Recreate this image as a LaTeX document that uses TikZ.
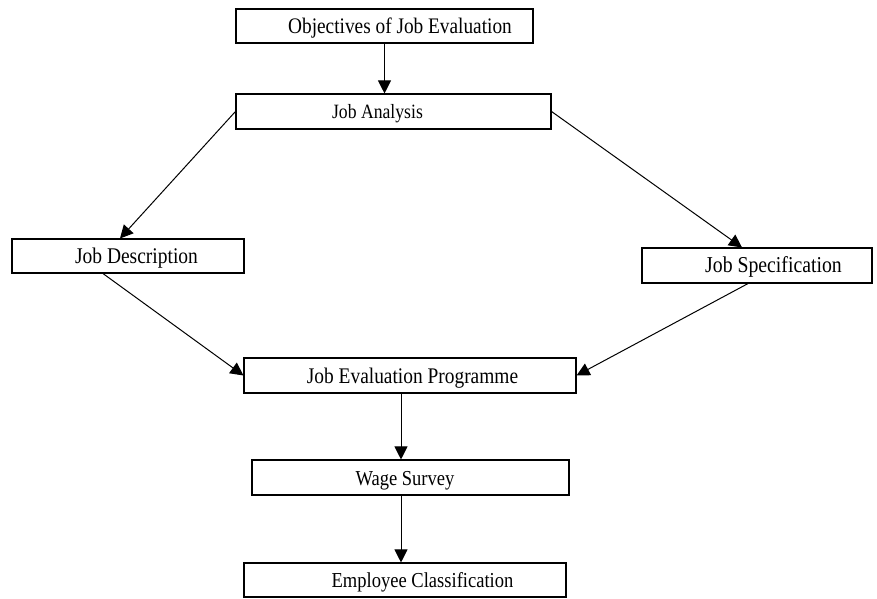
\documentclass[tikz,border=0pt]{standalone}
\usepackage{fontspec}
\setmainfont[FakeStretch=0.87]{Liberation Serif}
\usetikzlibrary{arrows.meta}
\newcommand{\fs}[1]{\fontsize{#1}{#1}\selectfont}
\tikzset{
  box/.style={draw=black, line width=1.1pt, inner sep=0pt, fill=white},
  lbl/.style={anchor=base, inner sep=0pt, text=black},
  arr/.style={draw=black, line width=1pt, -{Triangle[length=13pt,width=13pt]}}
}
\begin{document}
\begin{tikzpicture}[x=1pt,y=-1pt]
\useasboundingbox (0,0) rectangle (877,598);
% boxes
\node[box, minimum width=297pt, minimum height=34pt] (obj) at (384.5,26) {};
\node[box, minimum width=315pt, minimum height=35pt] (ja) at (393.5,111.5) {};
\node[box, minimum width=232pt, minimum height=34pt] (jd) at (128,256) {};
\node[box, minimum width=230pt, minimum height=35pt] (js) at (757,265.5) {};
\node[box, minimum width=332pt, minimum height=35pt] (jep) at (410,375.5) {};
\node[box, minimum width=317pt, minimum height=35pt] (ws) at (410.5,477.5) {};
\node[box, minimum width=322pt, minimum height=34pt] (ec) at (405,580) {};
% labels
\node[lbl, font=\fs{22.2}] (objT) at (400,33) {Objectives of Job Evaluation};
\node[lbl, font=\fs{20.3}] (jaT) at (377.5,118) {Job Analysis};
\node[lbl, font=\fs{22.4}] (jdT) at (136.5,263) {Job Description};
\node[lbl, font=\fs{22.7}] (jsT) at (773.5,272.7) {Job Specification};
\node[lbl, font=\fs{22.3}] (jepT) at (412.5,383) {Job Evaluation Programme};
\node[lbl, font=\fs{21.3}] (wsT) at (405,485) {Wage Survey};
\node[lbl, font=\fs{21.3}] (ecT) at (422.5,587) {Employee Classification};
% connectors
\draw[arr] (obj.south) -- (obj.south |- ja.north);
\draw[arr] (ja.west) -- ([xshift=-8pt]jd.north);
\draw[arr] (ja.east) -- ([xshift=-15pt]js.north);
\draw[arr] ([xshift=-25pt]jd.south) -- (jep.west);
\draw[arr] ([xshift=-9pt]js.south) -- (jep.east);
\draw[arr] ([xshift=-9pt]jep.south) -- ([xshift=-9pt]jep.south |- ws.north);
\draw[arr] ([xshift=-9.5pt]ws.south) -- ([xshift=-9.5pt]ws.south |- ec.north);
\end{tikzpicture}
\end{document}
